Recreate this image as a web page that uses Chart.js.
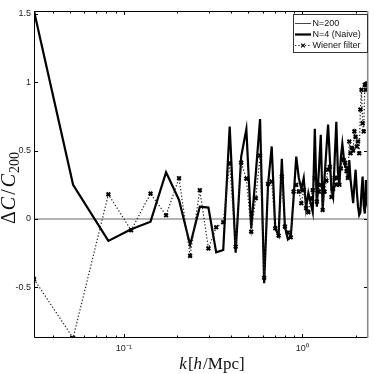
<!DOCTYPE html>
<html>
<head>
<meta charset="utf-8">
<script src="https://cdn.jsdelivr.net/npm/chart.js@4.4.1/dist/chart.umd.min.js"></script>
<style>
  html, body { margin: 0; padding: 0; background: #fff; }
  canvas { display: block; }
</style>
</head>
<body>
<canvas id="chart" width="374" height="374"></canvas>
<script>
// k bins in h/Mpc
const kBins = [0.0314, 0.052, 0.082, 0.110, 0.1413, 0.1727, 0.2041, 0.2355, 0.2669, 0.2983,
  0.3297, 0.3611, 0.3925, 0.4239, 0.4553, 0.4867, 0.5181, 0.5495, 0.5809, 0.6123,
  0.6437, 0.6751, 0.7065, 0.7379, 0.7693, 0.8007, 0.8321, 0.8635, 0.8949, 0.9263,
  0.9577, 0.9891, 1.0205, 1.0519, 1.0833, 1.1147, 1.1461, 1.1775, 1.2089, 1.2403,
  1.2717, 1.3031, 1.3345, 1.3659, 1.3973, 1.4287, 1.4601, 1.4915, 1.5229, 1.5543,
  1.5857, 1.6171, 1.6485, 1.6799, 1.7113, 1.7427, 1.7741, 1.8055, 1.8369, 1.8683,
  1.8997, 1.9311, 1.9625, 1.9939, 2.0253, 2.0567, 2.0881, 2.1195, 2.1509, 2.1823,
  2.2137, 2.2451, 2.2765, 2.3079, 2.3393];

const naive = [1.52, 0.25, -0.16, -0.075, -0.02, 0.342, 0.139, -0.19, 0.09, 0.083,
  -0.244, -0.227, 0.676, -0.247, 0.456, 0.657, -0.068, 0.33, 0.73, -0.47,
  0.25, 0.53, -0.07, -0.12, 0.44, -0.06, -0.15, -0.13, 0.15, 0.456,
  0.3, 0.22, 0.3, 0.08, 0.19, 0.12, 0.05, 0.66, 0.09, 0.35,
  0.615, 0.066, 0.3, 0.5, 0.69, 0.45, 0.21, 0.16, 0.45, 0.71,
  0.35, 0.25, 0.45, 0.55, 0.45, 0.38, 0.38, 0.3, 0.43, 0.285,
  0.2, 0.115, 0.25, 0.36, 0.2, 0.09, 0.03, 0.05, 0.2, 0.31,
  0.1, 0.04, 0.285, 0.15, 0.2];

const wiener = [-0.44, -0.87, 0.18, -0.083, 0.185, 0.027, 0.298, -0.27, 0.21, -0.215,
  -0.061, -0.024, 0.408, -0.203, 0.412, 0.295, -0.093, 0.152, 0.463, -0.43,
  0.256, 0.273, -0.068, -0.122, 0.31, -0.056, -0.1, -0.134, 0.2, 0.25,
  0.2, 0.115, 0.212, 0.08, 0.05, 0.15, 0.21, 0.3, 0.127, 0.2,
  0.25, 0.066, 0.2, 0.28, 0.36, 0.38, 0.16, 0.22, 0.3, 0.25,
  0.3, 0.25, 0.37, 0.44, 0.43, 0.41, 0.35, 0.3, 0.566, 0.48,
  0.52, 0.5, 0.64, 0.6, 0.53, 0.566, 0.48, 0.8, 0.944, 0.7,
  0.64, 0.98, 0.944, 0.99, 0.99];

// N=200 is the reference, so its difference is zero everywhere
const refK = [0.0314, 2.3393];
const refVals = [0, 0];

const yTicks = [-0.5, 0, 0.5, 1, 1.5];
const xTicks = [0.1, 1];
const xTickLabels = ['10⁻¹', '10⁰'];
const xMinorTicks = [0.04, 0.05, 0.06, 0.07, 0.08, 0.09, 0.2, 0.3, 0.4, 0.5, 0.6, 0.7, 0.8, 0.9, 2];
const seriesNames = ['N=200', 'N=4 (Naive)', 'Wiener filter'];

const toPoints = (xs, ys) => xs.map((x, i) => ({ x: x, y: ys[i] }));

// parts: [text, font, dy, gapAfter]
function richWidth(ctx, parts) {
  let w = 0;
  parts.forEach(p => { ctx.font = p[1]; w += ctx.measureText(p[0]).width + (p[3] || 0); });
  return w;
}

function putRich(ctx, parts, cx, baseY) {
  let x = cx - richWidth(ctx, parts) / 2;
  ctx.textAlign = 'left';
  ctx.textBaseline = 'alphabetic';
  parts.forEach(p => {
    ctx.font = p[1];
    ctx.fillText(p[0], x, baseY + (p[2] || 0));
    x += ctx.measureText(p[0]).width + (p[3] || 0);
  });
}

const framePlugin = {
  id: 'frame',
  afterDraw(chart) {
    const ctx = chart.ctx;
    const a = chart.chartArea;
    const xs = chart.scales.x, ys = chart.scales.y;
    ctx.save();

    // inward tick marks on all four sides
    ctx.strokeStyle = '#000';
    ctx.lineWidth = 1;
    ctx.beginPath();
    xTicks.forEach(v => {
      const px = Math.round(xs.getPixelForValue(v)) + 0.5;
      ctx.moveTo(px, a.bottom); ctx.lineTo(px, a.bottom - 4);
      ctx.moveTo(px, a.top); ctx.lineTo(px, a.top + 4);
    });
    xMinorTicks.forEach(v => {
      const px = Math.round(xs.getPixelForValue(v)) + 0.5;
      ctx.moveTo(px, a.bottom); ctx.lineTo(px, a.bottom - 2.5);
      ctx.moveTo(px, a.top); ctx.lineTo(px, a.top + 2.5);
    });
    yTicks.forEach(v => {
      const py = Math.round(ys.getPixelForValue(v)) + 0.5;
      ctx.moveTo(a.left, py); ctx.lineTo(a.left + 4, py);
      ctx.moveTo(a.right, py); ctx.lineTo(a.right - 4, py);
    });
    ctx.stroke();

    // axes box
    ctx.beginPath();
    ctx.moveTo(a.right, a.top + 0.5);
    ctx.lineTo(a.left + 0.5, a.top + 0.5);
    ctx.lineTo(a.left + 0.5, a.bottom - 0.5);
    ctx.lineTo(a.right, a.bottom - 0.5);
    ctx.stroke();
    ctx.strokeStyle = '#8c8c8c';
    ctx.lineWidth = 1.6;
    ctx.beginPath();
    ctx.moveTo(a.right - 0.3, a.top);
    ctx.lineTo(a.right - 0.3, a.bottom);
    ctx.stroke();

    // legend
    const lx = 293, ly = 14, lw = 74, lh = 38;
    ctx.fillStyle = '#fff';
    ctx.fillRect(lx, ly, lw, lh);
    ctx.strokeStyle = '#333';
    ctx.lineWidth = 1;
    ctx.strokeRect(lx + 0.5, ly + 0.5, lw, lh);
    const rowY = [23, 34, 45];
    chart.data.datasets.forEach((d, i) => {
      const y = rowY[i];
      ctx.save();
      ctx.strokeStyle = i === 0 ? '#444' : d.borderColor;
      ctx.lineWidth = i === 0 ? 1 : d.borderWidth;
      ctx.setLineDash(d.borderDash || []);
      ctx.beginPath();
      ctx.moveTo(295, y + 0.5);
      ctx.lineTo(311, y + 0.5);
      ctx.stroke();
      ctx.setLineDash([]);
      if (d.pointRadius > 0) {
        ctx.strokeStyle = d.pointBorderColor;
        Chart.helpers.drawPoint(ctx, {
          pointStyle: d.pointStyle, radius: d.pointRadius,
          borderWidth: d.pointBorderWidth, rotation: 0
        }, 303, y + 0.5);
      }
      ctx.restore();
      ctx.fillStyle = '#111';
      ctx.font = '9px "Liberation Sans", Arial, sans-serif';
      ctx.textAlign = 'left';
      ctx.textBaseline = 'middle';
      ctx.fillText(d.label, 312.5, y + 0.5);
    });

    // axis titles
    ctx.fillStyle = '#111';
    const serif = '"Liberation Serif", "DejaVu Serif", serif';
    putRich(ctx, [
      ['k', 'italic 17px ' + serif, 0, 1],
      ['[', '17px ' + serif],
      ['h', 'italic 17px ' + serif, 0, 1],
      ['/Mpc]', '17px ' + serif]
    ], 212, 369);

    ctx.save();
    ctx.translate(15, 188);
    ctx.rotate(-Math.PI / 2);
    putRich(ctx, [
      ['Δ', '20px ' + serif, 0, 1],
      ['C', 'italic 20px ' + serif, 0, 2],
      ['/', '20px ' + serif, 0, 2],
      ['C', 'italic 20px ' + serif, 0, 1],
      ['200', '14px ' + serif, 4]
    ], 0, 0);
    ctx.restore();

    ctx.restore();
  }
};

new Chart(document.getElementById('chart'), {
  type: 'line',
  data: {
    datasets: [
      {
        label: seriesNames[0],
        data: toPoints(refK, refVals),
        borderColor: '#9a9a9a',
        borderWidth: 1.6,
        pointRadius: 0,
        order: 2
      },
      {
        label: seriesNames[1],
        data: toPoints(kBins, naive),
        borderColor: '#000',
        borderWidth: 2.2,
        pointRadius: 0,
        order: 1
      },
      {
        label: seriesNames[2],
        data: toPoints(kBins, wiener),
        borderColor: '#222',
        borderWidth: 1.2,
        borderDash: [1.3, 2],
        pointStyle: 'crossRot',
        pointRadius: 2.6,
        pointBorderWidth: 2,
        pointBorderColor: '#000',
        order: 0
      }
    ]
  },
  options: {
    responsive: false,
    animation: false,
    devicePixelRatio: 1,
    layout: { padding: { left: 0, right: 5, top: 11, bottom: 0 } },
    elements: { line: { tension: 0 } },
    plugins: { legend: { display: false }, tooltip: { enabled: false } },
    scales: {
      x: {
        type: 'logarithmic',
        min: 0.0314,
        max: 2.3393,
        grid: { display: false, drawTicks: false },
        border: { display: false },
        afterBuildTicks: s => { s.ticks = xTicks.map(v => ({ value: v })); },
        afterFit: s => { s.height = 36; },
        ticks: {
          padding: 5,
          maxRotation: 0,
          autoSkip: false,
          color: '#222',
          font: { family: '"Liberation Sans", Arial, sans-serif', size: 9 },
          callback: v => xTickLabels[xTicks.indexOf(v)] ?? ''
        }
      },
      y: {
        min: -0.87,
        max: 1.52,
        grid: { display: false, drawTicks: false },
        border: { display: false },
        afterBuildTicks: s => { s.ticks = yTicks.map(v => ({ value: v })); },
        afterFit: s => { s.width = 34; },
        ticks: {
          padding: 3,
          color: '#222',
          font: { family: '"Liberation Sans", Arial, sans-serif', size: 9 },
          callback: v => String(v)
        }
      }
    }
  },
  plugins: [framePlugin]
});
</script>
</body>
</html>
